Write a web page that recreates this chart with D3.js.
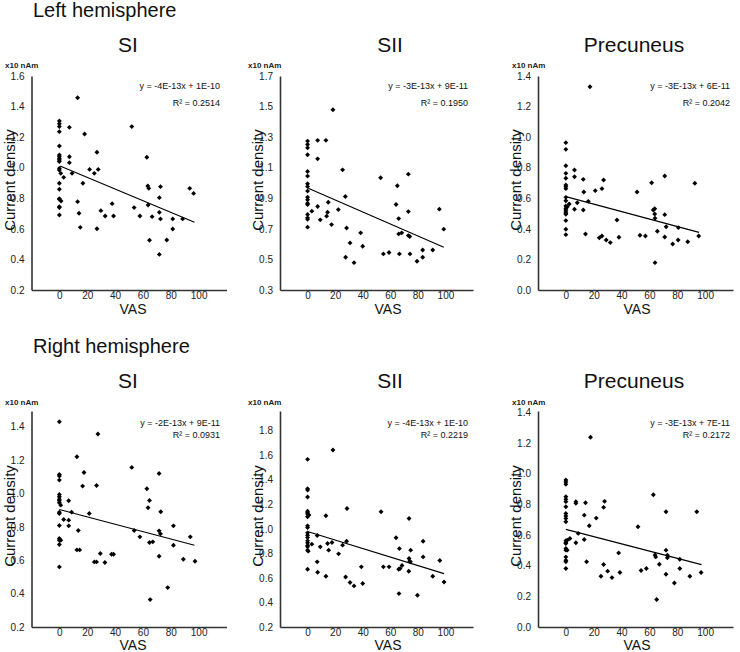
<!DOCTYPE html>
<html>
<head>
<meta charset="utf-8">
<script src="https://cdn.jsdelivr.net/npm/d3@7"></script>
<style>
  body { margin: 0; background: #fff; }
  svg { display: block; font-family: "Liberation Sans", Arial, sans-serif; }
</style>
</head>
<body>
<div id="canvas"></div>
<script>
"use strict"

/* data: VAS (x) and current density (y, x10 nAm) */

let leftSI_vas = [0,0,0,0,0,0,0,0,0,0,0,0,0,0,0,0,0,0,0, 1.2,1,3.1,7.2,7.2,7.2,9.1,13.1,13.1,14.1,15,16.9,18.1,21.7,25.1,27,27.9,27,29.8,32.9,37.9,38.9,52,53.7,57.8,62.8,63.5,64.2,63.7,64.7,66.6,71.8,72.6,71.8,72.6,71.8,77.1,81.4,81.4,88.5,93.6,96.4];
let leftSI_cd = [1.306,1.288,1.269,1.236,1.142,1.083,1.072,1.059,1.050,1.040,0.996,0.985,0.898,0.859,0.798,0.793,0.745,0.739,0.691, 0.782,0.963,0.937,1.264,1.072,1.033,0.963,1.458,0.778,0.702,0.610,0.898,1.221,0.989,0.963,1.101,0.989,0.601,0.719,0.684,0.765,0.684,1.269,0.739,0.684,1.068,0.880,0.865,0.756,0.525,0.680,0.804,0.876,0.708,0.665,0.433,0.527,0.665,0.599,0.665,0.865,0.832];

let leftSII_vas = [0,0,0,0,0,0,0,0,0,0,0,0,0,0,0,0,0, 3.1,7.3,7.3,7.3,9.2,13.3,13.8,14.5,15,17.4,18.4,22.3,25.4,27.4,27.6,28.3,30.8,33.7,38.5,40,53,55,59.1,64.2,65.1,66.1,66.1,66.6,68.3,73.1,73.1,73.1,74.1,74.3,79.4,83.5,83.5,90.8,95.6,98.8];
let leftSII_cd = [1.274,1.252,1.230,1.185,1.075,1.045,0.995,0.977,0.947,0.907,0.890,0.868,0.859,0.794,0.772,0.763,0.711, 0.816,1.279,1.158,0.846,0.759,1.279,0.783,0.809,0.874,0.728,1.479,0.826,1.086,0.912,0.514,0.706,0.608,0.479,0.674,0.586,1.034,0.536,0.545,0.859,0.982,0.767,0.667,0.536,0.674,1.058,0.813,0.656,0.650,0.536,0.488,0.562,0.514,0.562,0.829,0.698];

let leftPC_vas = [0,0,0,0,0,0,0,0,0,0,0,0,0,0,0,0,0,0,0, 1,2.4,6.2,6.2,6.2,8.2,12.5,12.9,12.5,14.1,16.1,17.3,21.1,24,25.9,25.9,27.1,29,31.9,36.7,38.1,51.1,53.2,57.1,61.6,62.8,63.8,63.8,64,64,65.7,71,71,72,71,76.7,80.8,80.6,87.5,92.6,95.4];
let leftPC_cd = [0.964,0.920,0.813,0.763,0.731,0.687,0.676,0.663,0.606,0.584,0.550,0.534,0.523,0.510,0.502,0.495,0.454,0.397,0.362, 0.545,0.563,0.785,0.741,0.528,0.571,0.724,0.641,0.523,0.366,0.580,1.330,0.650,0.342,0.663,0.353,0.720,0.327,0.310,0.458,0.345,0.641,0.358,0.353,0.702,0.523,0.532,0.497,0.469,0.179,0.384,0.746,0.493,0.414,0.347,0.301,0.408,0.327,0.316,0.698,0.353];

let rightSI_vas = [0,0,0,0,0,0,0,0,0,0,0,0,0,0,0,0, 1,1,3.1,6.7,6.7,6.7,8.8,12.6,13.6,12.6,14.6,16.7,17.7,21.5,25.1,26.7,26.7,27.7,29.4,32.7,37.5,38.9,52,53.7,57.8,62.8,63.7,64.7,64.7,65.2,67.1,71.6,71.6,72.8,72.6,71.6,77.8,81.9,81.9,89,94,97.4];
let rightSI_cd = [1.430,1.114,1.104,1.080,0.994,0.980,0.966,0.956,0.944,0.888,0.880,0.808,0.730,0.720,0.694,0.560, 0.930,0.720,0.844,0.956,0.840,0.806,0.888,1.220,0.778,0.662,0.662,1.044,1.126,0.880,0.590,0.590,1.048,1.356,0.640,0.586,0.636,0.636,1.156,0.778,0.740,1.028,0.914,0.958,0.706,0.364,0.710,1.120,0.776,0.890,0.758,0.624,0.436,0.806,0.690,0.606,0.740,0.594];

let rightSII_vas = [0,0,0,0,0,0,0,0,0,0,0,0,0,0,0,0,0,0,0, 1,0.5,3.1,7,7,7.3,9.2,13.3,13.3,14.5,15.3,17.7,18.4,22.5,25.4,27.6,28.6,28.3,30.8,33.7,39,40,53.3,55,59.1,64.2,66.1,66.6,67.1,66.3,68.5,73.6,73.6,74.1,74.8,74.6,73.4,79.7,83.8,83.8,90.8,95.9,99];
let rightSII_cd = [1.566,1.327,1.316,1.259,1.144,1.131,1.120,1.098,1.024,1.011,0.967,0.948,0.929,0.902,0.886,0.864,0.853,0.826,0.671, 1.112,0.818,0.875,0.946,0.731,0.646,0.853,0.614,1.106,0.880,0.826,0.888,1.642,0.796,0.867,0.608,1.166,0.899,0.562,0.535,0.690,0.554,1.139,0.690,0.690,0.927,0.671,0.839,0.676,0.472,0.701,1.084,0.758,0.736,0.826,0.731,0.654,0.459,0.899,0.771,0.614,0.742,0.567];

let rightPC_vas = [0,0,0,0,0,0,0,0,0,0,0,0,0,0,0,0,0,0,0,0, 1,2.9,1,7.2,7.2,7.2,8.9,14.1,13.2,13.2,14.9,16.8,17.7,21.8,25.2,27.1,27.8,27.1,30,33.1,37.9,38.8,51.8,54,57.8,62.8,64,64.5,65.2,67.1,71.9,71.9,72.9,72.9,71.9,77.9,81.8,81.8,89,94,97.1];
let rightPC_cd = [0.958,0.945,0.930,0.849,0.832,0.817,0.784,0.740,0.723,0.708,0.686,0.562,0.549,0.544,0.512,0.501,0.457,0.435,0.425,0.381, 0.566,0.577,0.501,0.817,0.806,0.549,0.610,0.810,0.729,0.570,0.425,0.660,1.237,0.710,0.331,0.780,0.819,0.407,0.364,0.322,0.483,0.355,0.653,0.368,0.381,0.862,0.470,0.457,0.179,0.409,0.751,0.501,0.468,0.451,0.344,0.287,0.442,0.381,0.331,0.751,0.355];

/* trend line end points */
let leftSI_fit = [[0.5, 1.011], [97, 0.643]];
let leftSII_fit = [[0.5, 0.966], [98.8, 0.580]];
let leftPC_fit = [[0, 0.611], [95.6, 0.377]];
let rightSI_fit = [[0, 0.904], [97, 0.690]];
let rightSII_fit = [[0.5, 0.976], [99, 0.635]];
let rightPC_fit = [[0, 0.636], [97.4, 0.407]];

let equations = ["y = -4E-13x + 1E-10", "y = -3E-13x + 9E-11", "y = -3E-13x + 6E-11",
                 "y = -2E-13x + 9E-11", "y = -4E-13x + 1E-10", "y = -3E-13x + 7E-11"];
let rSquared = ["R\u00b2 = 0.2514", "R\u00b2 = 0.1950", "R\u00b2 = 0.2042",
                "R\u00b2 = 0.0931", "R\u00b2 = 0.2219", "R\u00b2 = 0.2172"];
let regionNames = ["SI", "SII", "Precuneus"];
let vasTicks = [0, 20, 40, 60, 80, 100];
let yTicksLeftSI = [0.2, 0.4, 0.6, 0.8, 1.0, 1.2, 1.4, 1.6];
let yTicksLeftSII = [0.3, 0.5, 0.7, 0.9, 1.1, 1.3, 1.5, 1.7];
let yTicksPC = [0.0, 0.2, 0.4, 0.6, 0.8, 1.0, 1.2, 1.4];
let yTicksRightSI = [0.2, 0.4, 0.6, 0.8, 1.0, 1.2, 1.4];
let yTicksRightSII = [0.2, 0.4, 0.6, 0.8, 1.0, 1.2, 1.4, 1.6, 1.8];

/* panel list: data + y domain */
let panels = [
    { vas: leftSI_vas, cd: leftSI_cd, fit: leftSI_fit, yDom: [0.2, 1.6], ticks: yTicksLeftSI },
    { vas: leftSII_vas, cd: leftSII_cd, fit: leftSII_fit, yDom: [0.3, 1.7], ticks: yTicksLeftSII },
    { vas: leftPC_vas, cd: leftPC_cd, fit: leftPC_fit, yDom: [0.0, 1.4], ticks: yTicksPC },
    { vas: rightSI_vas, cd: rightSI_cd, fit: rightSI_fit, yDom: [0.2, 1.494], ticks: yTicksRightSI },
    { vas: rightSII_vas, cd: rightSII_cd, fit: rightSII_fit, yDom: [0.2, 1.96], ticks: yTicksRightSII },
    { vas: rightPC_vas, cd: rightPC_cd, fit: rightPC_fit, yDom: [0.0, 1.408], ticks: yTicksPC }
];

/* layout */
let cols = [
    { left: 31.5, right: 226.5, title: 128, vas: 133, eqRight: 220, unitX: 5 },
    { left: 280, right: 473, title: 390, vas: 388, eqRight: 468, unitX: 248 },
    { left: 538, right: 733, title: 634, vas: 637, eqRight: 730, unitX: 512 }
];
let rows = [
    { top: 76, bottom: 290, head: "Left hemisphere", headY: 17, titleY: 52, unitY: 68, eqY: 89, r2Y: 106, vasY: 314 },
    { top: 411, bottom: 627, head: "Right hemisphere", headY: 353, titleY: 388, unitY: 405, eqY: 426, r2Y: 438, vasY: 650 }
];

let drawing = d3.select("#canvas")
    .append("svg")
    .attr("width", 740)
    .attr("height", 652);

// small diamond marker
let diamond = {
    draw: function (context, size) {
        let h = Math.sqrt(size / 2);
        context.moveTo(0, -h);
        context.lineTo(h, 0);
        context.lineTo(0, h);
        context.lineTo(-h, 0);
        context.closePath();
    }
};
let marker = d3.symbol().type(diamond).size(12);

rows.forEach(function (row, r) {
    drawing.append("text")
        .attr("x", 33)
        .attr("y", row.headY)
        .attr("font-size", 20)
        .attr("fill", "#111")
        .text(row.head);

    cols.forEach(function (col, c) {
        let p = panels[r * 3 + c];

        let x = d3.scaleLinear().domain([-20, 120]).range([col.left, col.right]);
        let y = d3.scaleLinear().domain(p.yDom).range([row.bottom, row.top]);

        let g = drawing.append("g");

        // region title
        g.append("text")
            .attr("x", col.title)
            .attr("y", row.titleY)
            .attr("text-anchor", "middle")
            .attr("font-size", 21)
            .attr("fill", "#111")
            .text(regionNames[c]);

        // unit label
        g.append("text")
            .attr("x", col.unitX)
            .attr("y", row.unitY)
            .attr("font-size", 8)
            .attr("font-weight", "bold")
            .attr("fill", "#222")
            .text("x10 nAm");

        // axes
        let yAxis = g.append("g")
            .attr("transform", "translate(" + col.left + ",0)")
            .call(d3.axisLeft(y).tickValues(p.ticks).tickFormat(d3.format(".1f"))
                .tickSize(0).tickPadding(7));
        let xAxis = g.append("g")
            .attr("transform", "translate(0," + row.bottom + ")")
            .call(d3.axisBottom(x).tickValues(vasTicks).tickSize(0).tickPadding(2));

        [yAxis, xAxis].forEach(function (ax) {
            ax.select(".domain").attr("stroke", "#333").attr("stroke-width", 1.6);
            ax.selectAll("text")
                .attr("font-family", "Liberation Sans, Arial, sans-serif")
                .attr("font-size", 10)
                .attr("fill", "#222");
        });

        // axis titles
        let labX = col.left - 17;
        let labY = (row.top + row.bottom) / 2 - 3;
        g.append("text")
            .attr("transform", "translate(" + labX + "," + labY + ") rotate(-90)")
            .attr("text-anchor", "middle")
            .attr("font-size", 15)
            .attr("fill", "#111")
            .text("Current density");

        g.append("text")
            .attr("x", col.vas)
            .attr("y", row.vasY)
            .attr("text-anchor", "middle")
            .attr("font-size", 14)
            .attr("fill", "#111")
            .text("VAS");

        // points
        g.selectAll(".pt")
            .data(d3.range(p.vas.length))
            .join("path")
            .attr("class", "pt")
            .attr("d", marker)
            .attr("transform", function (i) {
                return "translate(" + x(p.vas[i]) + "," + y(p.cd[i]) + ")";
            })
            .attr("fill", "#000");

        // trend line
        g.append("path")
            .datum(p.fit)
            .attr("d", d3.line().x(function (d) { return x(d[0]); }).y(function (d) { return y(d[1]); }))
            .attr("fill", "none")
            .attr("stroke", "#000")
            .attr("stroke-width", 1.2);

        // equation
        g.append("text")
            .attr("x", col.eqRight)
            .attr("y", row.eqY)
            .attr("text-anchor", "end")
            .attr("font-size", 9)
            .attr("fill", "#111")
            .text(equations[r * 3 + c]);
        g.append("text")
            .attr("x", col.eqRight)
            .attr("y", row.r2Y)
            .attr("text-anchor", "end")
            .attr("font-size", 9)
            .attr("fill", "#111")
            .text(rSquared[r * 3 + c]);
    });
});
</script>
</body>
</html>
